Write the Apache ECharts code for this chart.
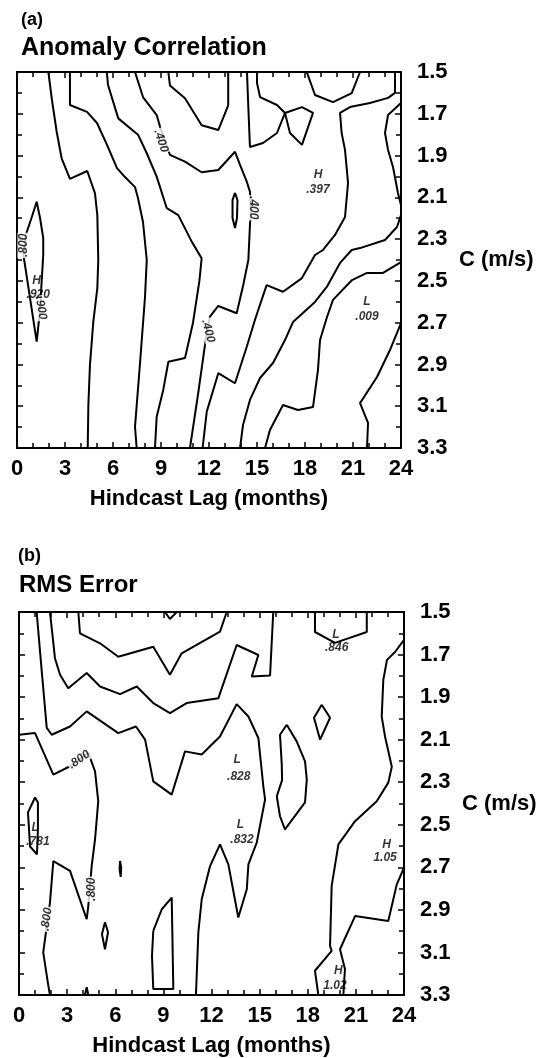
<!DOCTYPE html>
<html><head><meta charset="utf-8">
<script src="https://cdn.jsdelivr.net/npm/echarts@6/dist/echarts.min.js"></script>
<style>html,body{margin:0;padding:0;background:#fff}#c{width:542px;height:1058px}</style>
</head><body><div id="c"></div>
<script>
// ---------- tick labels ----------
const lagTickLabels = ['0','3','6','9','12','15','18','21','24'];
const cTickLabels = ['1.5','1.7','1.9','2.1','2.3','2.5','2.7','2.9','3.1','3.3'];

// ---------- (a) Anomaly Correlation contours : [lag (months), C (m/s)] ----------
const acHigh920 = [[1.23,2.121],[0.9,2.2],[0.55,2.28],[0.4,2.376],[0.55,2.45],[0.85,2.6],[1.23,2.791],[1.44,2.639],[1.54,2.504],[1.64,2.376],[1.64,2.295],[1.44,2.199],[1.23,2.121]];
const acLineA = [[1.96,1.5],[2.17,1.626],[2.48,1.786],[2.79,1.913],[3.31,2.012],[4.39,1.974],[4.875,2.081],[5.02,2.185],[5.08,2.4],[5.02,2.535],[4.77,2.695],[4.56,2.903],[4.46,3.094],[4.42,3.3]];
const acLineB = [[3.31,1.5],[3.31,1.658],[4.375,1.691],[5.0,1.744],[5.625,1.849],[6.25,1.96],[6.75,2.003],[7.375,2.051],[7.56,2.103],[7.875,2.218],[8.11,2.4],[8.0,2.577],[7.69,2.893],[7.375,3.199],[7.48,3.3]];
const acLineC = [[5.61,1.5],[5.69,1.562],[6.33,1.722],[7.58,1.802],[8.11,1.889],[8.73,2.001],[9.36,2.152],[10.08,2.185],[10.92,2.312],[11.54,2.392],[11.4,2.5],[11.0,2.7],[10.5,2.869],[9.46,2.887],[9.14,3.022],[8.73,3.15],[8.625,3.3]];
const acLineD = [[7.375,1.5],[7.875,1.62],[8.73,1.706],[8.94,1.762],[9.56,1.897],[10.5,1.929],[11.54,1.98],[12.58,1.969],[13.625,1.882],[13.94,1.945],[14.36,2.025],[14.56,2.073],[14.625,2.161],[14.56,2.232],[14.46,2.4],[14.14,2.52],[13.73,2.655],[12.58,2.62],[12.06,2.671],[11.875,2.743],[11.69,2.839],[11.31,3.046],[10.81,3.3]];
const acLineE = [[9.46,1.5],[9.56,1.565],[10.5,1.626],[11.54,1.755],[12.58,1.778],[13.2,1.66],[13.2,1.5]];
const acRing = [[13.625,2.079],[13.78,2.113],[13.75,2.199],[13.625,2.247],[13.47,2.199],[13.47,2.113],[13.625,2.079]];
const acLineG = [[14.375,1.5],[14.44,1.634],[14.56,1.859],[15.375,1.84],[16.25,1.792],[16.75,1.696],[17.06,1.792],[17.81,1.849],[18.5,1.696],[17.81,1.668],[16.75,1.696],[16.25,1.658],[15.19,1.62],[15.0,1.553],[15.0,1.5]];
const acLineV = [[18.11,1.5],[18.625,1.61],[19.75,1.644],[20.92,1.601],[21.44,1.5]];
const acLineF = [[23.625,1.5],[23.625,1.6],[23.19,1.624],[22.06,1.648],[20.81,1.668],[20.19,1.696],[20.29,1.792],[20.5,1.873],[20.69,2.031],[20.5,2.194],[19.875,2.28],[19.125,2.352],[18.625,2.376],[17.79,2.488],[16.625,2.552],[15.6,2.52],[14.9,2.68],[14.36,2.815],[13.625,2.99],[12.58,2.942],[11.86,3.126],[11.6,3.3]];
const acEdgeBump = [[24,1.648],[23.19,1.706],[23.0,1.792],[23.19,1.873],[23.5,1.955],[23.81,2.079],[24,2.137]];
const acLineH = [[24,2.185],[23.75,2.242],[23.0,2.304],[21.44,2.343],[20.92,2.352],[20.19,2.414],[19.36,2.529],[18.625,2.601],[17.25,2.697],[16.75,2.783],[16.0,2.893],[15.19,2.965],[14.56,3.07],[14.125,3.19],[13.94,3.3]];
const acLineI = [[24,2.41],[22.875,2.462],[21.875,2.462],[20.94,2.496],[19.75,2.591],[19.375,2.673],[18.94,2.783],[18.81,2.927],[18.5,3.104],[17.56,3.118],[16.625,3.094],[15.81,3.214],[15.5,3.3]];
const acLineJ = [[24,2.702],[23.31,2.831],[22.5,2.96],[21.44,3.085],[21.94,3.18],[21.875,3.3]];
// [lag, C, text, rotation, onLine]
const acLabels = [
  [9.0,1.83,'.400',-72,true],[14.75,2.15,'.400',-90,true],[11.95,2.74,'.400',-75,true],
  [0.4,2.33,'.800',90,true],[1.5,2.63,'.900',-80,true],
  [1.23,2.5,'H',0,false],[1.33,2.567,'.920',0,false],
  [18.81,1.993,'H',0,false],[18.81,2.065,'.397',0,false],
  [21.875,2.601,'L',0,false],[21.875,2.673,'.009',0,false]
];

// ---------- (b) RMS Error contours ----------
const rmsLineP = [[1.1,1.5],[1.42,1.78],[1.73,2.045],[2.04,2.077],[3.18,2.038],[4.22,1.967],[6.19,2.069],[7.29,2.038],[7.86,2.1],[8.37,2.296],[9.52,2.358],[10.35,2.155],[11.39,2.17],[12.53,2.085],[13.57,1.933],[14.3,1.991],[14.92,2.092],[15.23,2.319],[15.34,2.381],[14.82,2.584],[14.3,2.686],[14.2,2.803],[13.67,2.936],[13.05,2.686],[12.53,2.592],[11.91,2.694],[11.39,2.85],[11.18,3.006],[11.03,3.3]];
const rmsLineQ2 = [[1.93,1.5],[2.12,1.631],[2.24,1.717],[2.56,1.795],[3.07,1.858],[4.22,1.787],[5.05,1.85],[6.3,1.886],[7.34,1.85],[8.37,1.928],[9.41,1.975],[10.45,1.928],[12.43,1.905],[13.57,1.655],[14.92,1.702],[14.51,1.803],[15.65,1.799],[15.85,1.5]];
const rmsLineQ1 = [[3.7,1.5],[3.8,1.6],[5.05,1.647],[6.19,1.71],[8.37,1.663],[9.41,1.795],[10.14,1.694],[12.53,1.592],[12.95,1.5]];
const rmsTopNotch = [[9.1,1.5],[9.41,1.533],[9.83,1.5]];
const rmsLine800 = [[0,2.077],[1.0,2.069],[2.14,2.264],[3.18,2.225],[4.32,2.162],[4.74,2.249],[4.94,2.389],[4.74,2.569],[4.53,2.694],[4.32,2.882],[4.22,2.944],[3.18,2.717],[2.14,2.671],[1.93,2.866],[1.51,3.1],[1.83,3.257],[1.93,3.3]];
const rmsLow781 = [[1.0,2.372],[1.18,2.395],[1.18,2.522],[1.12,2.639],[0.69,2.602],[0.56,2.442],[1.0,2.372]];
const rmsTinyRing = [[6.3,2.67],[6.37,2.7],[6.34,2.745],[6.27,2.71],[6.3,2.67]];
const rmsDiamondL = [[5.36,2.958],[5.55,3.005],[5.36,3.085],[5.17,3.014],[5.36,2.958]];
const rmsLoop9 = [[8.37,2.999],[8.9,2.897],[9.52,2.842],[9.62,3.272],[8.37,3.272],[8.29,3.117],[8.37,2.999]];
const rmsBottomNotch = [[4.11,3.3],[4.22,3.263],[4.32,3.3]];
const rmsLoop17 = [[16.69,2.03],[16.27,2.077],[16.38,2.217],[16.4,2.29],[16.07,2.366],[16.27,2.46],[16.58,2.522],[17.83,2.395],[17.94,2.288],[17.83,2.202],[17.31,2.108],[16.69,2.03]];
const rmsDiamondR = [[18.87,1.936],[19.39,1.997],[18.77,2.1],[18.39,1.997],[18.87,1.936]];
const rmsLow846 = [[18.45,1.5],[18.45,1.594],[19.7,1.645],[21.68,1.594],[21.68,1.5]];
const rmsLineR1 = [[24,1.631],[23.44,1.688],[22.94,1.725],[22.71,1.819],[22.61,1.992],[22.82,2.086],[23.24,2.227],[23.02,2.302],[22.3,2.389],[20.95,2.483],[19.91,2.592],[19.49,2.788],[19.39,3.069],[19.49,3.093],[18.45,3.186],[18.66,3.3]];
const rmsLineR2 = [[24,2.702],[23.55,2.78],[23.02,2.952],[20.95,2.929],[20.01,3.085],[20.32,3.178],[20.22,3.3]];
const rmsLabels = [
  [3.75,2.194,'.800',35,true],[4.53,2.803,'.800',90,true],[1.73,2.944,'.800',82,true],
  [13.6,2.194,'L',0,false],[13.7,2.272,'.828',0,false],
  [13.8,2.499,'L',0,false],[13.9,2.569,'.832',0,false],
  [19.76,1.608,'L',0,false],[19.8,1.667,'.846',0,false],
  [22.92,2.592,'H',0,false],[22.82,2.655,'1.05',0,false],
  [19.91,3.186,'H',0,false],[19.7,3.257,'1.02',0,false],
  [1.0,2.513,'L',0,false],[1.18,2.578,'.781',0,false]
];

const acContours = [acHigh920, acLineA, acLineB, acLineC, acLineD, acLineE, acRing, acLineG, acLineV, acLineF, acEdgeBump, acLineH, acLineI, acLineJ];
const rmsContours = [rmsLineP, rmsLineQ2, rmsLineQ1, rmsTopNotch, rmsLine800, rmsLow781, rmsTinyRing, rmsDiamondL, rmsLoop9, rmsBottomNotch, rmsLoop17, rmsDiamondR, rmsLow846, rmsLineR1, rmsLineR2];

// ---------- styling ----------
const FONT = 'Liberation Sans, Arial, Helvetica, sans-serif';
const axisLine = {show:true, onZero:false, lineStyle:{color:'#000', width:2}};
const tick = {show:true, inside:true, length:6, lineStyle:{color:'#000', width:1.5}};
const bigText = {color:'#000', fontFamily:FONT, fontSize:22, fontWeight:'bold'};

function xAxes(g){
  return [
    {gridIndex:g, type:'value', min:0, max:24, interval:3, position:'bottom',
     axisLine, axisTick:tick, minorTick:{show:true, splitNumber:3, length:5, lineStyle:{color:'#000', width:1.5}},
     splitLine:{show:false}, minorSplitLine:{show:false},
     axisLabel:Object.assign({show:true, margin:10, showMinLabel:true, showMaxLabel:true,
       formatter:v => lagTickLabels[Math.round(v/3)]}, bigText),
     name:'Hindcast Lag (months)', nameLocation:'middle', nameGap:40, nameTextStyle:bigText},
    {gridIndex:g, type:'value', min:0, max:24, interval:3, position:'top',
     axisLine, axisTick:tick, minorTick:{show:true, splitNumber:3, length:5, lineStyle:{color:'#000', width:1.5}},
     splitLine:{show:false}, axisLabel:{show:false}}
  ];
}
function yAxes(g){
  return [
    {gridIndex:g, type:'value', min:1.5, max:3.3, interval:0.2, inverse:true, position:'left',
     axisLine, axisTick:tick, minorTick:{show:true, splitNumber:2, length:5, lineStyle:{color:'#000', width:1.5}},
     splitLine:{show:false}, axisLabel:{show:false}},
    {gridIndex:g, type:'value', min:1.5, max:3.3, interval:0.2, inverse:true, position:'right',
     axisLine, axisTick:tick, minorTick:{show:true, splitNumber:2, length:5, lineStyle:{color:'#000', width:1.5}},
     splitLine:{show:false},
     axisLabel:Object.assign({show:true, margin:16, showMinLabel:true, showMaxLabel:true,
       formatter:v => cTickLabels[Math.round((v-1.5)/0.2)]}, bigText),
     name:'C (m/s)', nameLocation:'middle', nameRotate:0, nameGap:58, nameTextStyle:bigText}
  ];
}

function contourSeries(list, axisIdx){
  return list.map(d => ({
    type:'line', xAxisIndex:axisIdx, yAxisIndex:axisIdx, data:d,
    symbol:'none', showSymbol:false, silent:true, z:3,
    lineStyle:{color:'#000', width:2}
  }));
}
function labelSeries(list, axisIdx){
  return {
    type:'scatter', xAxisIndex:axisIdx, yAxisIndex:axisIdx, z:5, silent:true,
    symbolSize:1, itemStyle:{color:'rgba(0,0,0,0)'},
    data:list.map(l => ({
      value:[l[0], l[1]],
      label:{show:true, position:'inside', formatter:l[2], rotate:l[3],
        color:'#000', fontFamily:FONT, fontSize:12, fontWeight:'bold', fontStyle:'italic',
        backgroundColor:l[4] ? '#fff' : 'transparent', padding:[0,1]}
    }))
  };
}

const titleStyle = (size) => ({color:'#000', fontFamily:FONT, fontSize:size, fontWeight:'bold'});

const option = {
  backgroundColor:'#fff',
  animation:false,
  title:[
    {text:'(a)', left:21, top:11, padding:0, textStyle:titleStyle(18)},
    {text:'Anomaly Correlation', left:21, top:36, padding:0, textStyle:titleStyle(25)},
    {text:'(b)', left:18, top:547, padding:0, textStyle:titleStyle(18)},
    {text:'RMS Error', left:19, top:573, padding:0, textStyle:titleStyle(24)}
  ],
  grid:[
    {left:17, top:72, width:384, height:376},
    {left:19, top:612, width:385, height:384}
  ],
  xAxis:[...xAxes(0), ...xAxes(1)],
  yAxis:[...yAxes(0), ...yAxes(1)],
  series:[
    ...contourSeries(acContours, 0), labelSeries(acLabels, 0),
    ...contourSeries(rmsContours, 2), labelSeries(rmsLabels, 2)
  ]
};
const chart = echarts.init(document.getElementById('c'));
chart.setOption(option);
</script>
</body></html>
